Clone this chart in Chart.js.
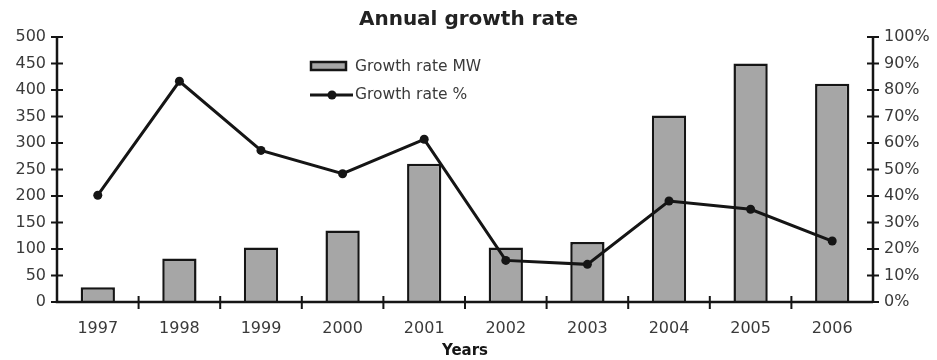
<!DOCTYPE html>
<html>
<head>
<meta charset="utf-8">
<script src="https://cdn.jsdelivr.net/npm/chart.js@4/dist/chart.umd.min.js"></script>
<style>
  html, body { margin: 0; padding: 0; background: #fff; }
  #wrap { width: 937px; height: 360px; }
</style>
</head>
<body>
<div id="wrap"><canvas id="c" width="937" height="360"></canvas></div>
<script>
// Annual growth figures
const years = ['1997', '1998', '1999', '2000', '2001', '2002', '2003', '2004', '2005', '2006'];
const growthMW = [28, 82, 103, 135, 261, 103, 113, 352, 450, 412];
const growthPct = [40.3, 83.3, 57.2, 48.4, 61.4, 15.7, 14.2, 38.1, 35, 23];
const leftTicks = [0, 50, 100, 150, 200, 250, 300, 350, 400, 450, 500];
const rightTicks = [0, 10, 20, 30, 40, 50, 60, 70, 80, 90, 100];

const FONT = 'DejaVu Sans';
const INK = '#151515';
const TEXT = '#3a3a3a';

// Axis lines with tick marks that cross the line, plus in-plot legend
const axesPlugin = {
  id: 'crossAxes',
  afterDatasetsDraw(chart) {
    const ctx = chart.ctx;
    const area = chart.chartArea;
    const x = chart.scales.x, yL = chart.scales.y, yR = chart.scales.y1;
    ctx.save();
    ctx.strokeStyle = INK;
    ctx.lineWidth = 2.5;
    ctx.beginPath();
    ctx.moveTo(area.left, area.top - 1);
    ctx.lineTo(area.left, area.bottom);
    ctx.lineTo(area.right, area.bottom);
    ctx.moveTo(area.right, area.top - 1);
    ctx.lineTo(area.right, area.bottom);
    ctx.stroke();
    ctx.lineWidth = 2;
    ctx.beginPath();
    yL.ticks.forEach(t => {
      const py = yL.getPixelForValue(t.value);
      ctx.moveTo(area.left - 6, py); ctx.lineTo(area.left + 6, py);
    });
    yR.ticks.forEach(t => {
      const py = yR.getPixelForValue(t.value);
      ctx.moveTo(area.right - 6, py); ctx.lineTo(area.right + 6, py);
    });
    for (let i = 0; i < years.length - 1; i++) {
      const px = (x.getPixelForValue(i) + x.getPixelForValue(i + 1)) / 2;
      ctx.moveTo(px, area.bottom - 6); ctx.lineTo(px, area.bottom + 7);
    }
    ctx.stroke();

    // legend
    const bar = chart.data.datasets[0], line = chart.data.datasets[1];
    ctx.font = '15.5px "' + FONT + '"';
    ctx.textBaseline = 'middle';
    ctx.fillStyle = bar.backgroundColor;
    ctx.fillRect(311, 62, 35, 8);
    ctx.strokeStyle = INK; ctx.lineWidth = 2.5;
    ctx.strokeRect(311, 62, 35, 8);
    ctx.fillStyle = TEXT;
    ctx.fillText(bar.label, 355, 67);
    ctx.beginPath();
    ctx.lineWidth = 3;
    ctx.moveTo(310, 95); ctx.lineTo(353, 95);
    ctx.stroke();
    ctx.beginPath();
    ctx.fillStyle = INK;
    ctx.arc(332, 95, 4.5, 0, Math.PI * 2);
    ctx.fill();
    ctx.fillStyle = TEXT;
    ctx.fillText(line.label, 355, 95);
    ctx.restore();
  }
};

new Chart(document.getElementById('c'), {
  data: {
    labels: years,
    datasets: [
      {
        type: 'bar',
        label: 'Growth rate MW',
        data: growthMW,
        yAxisID: 'y',
        backgroundColor: '#a6a6a6',
        borderColor: INK,
        borderWidth: 2.5,
        borderSkipped: 'bottom',
        categoryPercentage: 1,
        barPercentage: 0.42,
        order: 1
      },
      {
        type: 'line',
        label: 'Growth rate %',
        data: growthPct,
        yAxisID: 'y1',
        borderColor: INK,
        backgroundColor: INK,
        borderWidth: 3,
        pointRadius: 4.5,
        pointBackgroundColor: INK,
        pointBorderWidth: 0,
        tension: 0,
        order: 0
      }
    ]
  },
  options: {
    responsive: false,
    animation: false,
    layout: { padding: { left: 0, right: 0, top: 0, bottom: 0 } },
    plugins: {
      legend: { display: false },
      tooltip: { enabled: false },
      title: {
        display: true,
        text: 'Annual growth rate',
        color: '#222',
        font: { family: FONT, size: 20, weight: 'bold', lineHeight: 1.2 },
        padding: { top: 8, bottom: 5 }
      }
    },
    scales: {
      x: {
        offset: true,
        grid: { display: false },
        border: { display: false },
        ticks: { color: TEXT, font: { family: FONT, size: 16 }, padding: 9, maxRotation: 0 },
        title: {
          display: true, text: 'Years', color: INK,
          font: { family: FONT, size: 15, weight: 'bold' }, padding: { top: 2, bottom: 0 }
        },
        afterFit(s) { s.height = 58; }
      },
      y: {
        position: 'left',
        min: 0, max: 500,
        grid: { display: false, drawTicks: false },
        border: { display: false },
        afterBuildTicks(s) { s.ticks = leftTicks.map(v => ({ value: v })); },
        ticks: { color: TEXT, font: { family: FONT, size: 16 }, padding: 11 },
        afterFit(s) { s.width = 57; }
      },
      y1: {
        position: 'right',
        min: 0, max: 100,
        grid: { display: false, drawTicks: false },
        border: { display: false },
        afterBuildTicks(s) { s.ticks = rightTicks.map(v => ({ value: v })); },
        ticks: { color: TEXT, font: { family: FONT, size: 16 }, padding: 11, callback: v => v + '%' },
        afterFit(s) { s.width = 64; }
      }
    }
  },
  plugins: [axesPlugin]
});
</script>
</body>
</html>
